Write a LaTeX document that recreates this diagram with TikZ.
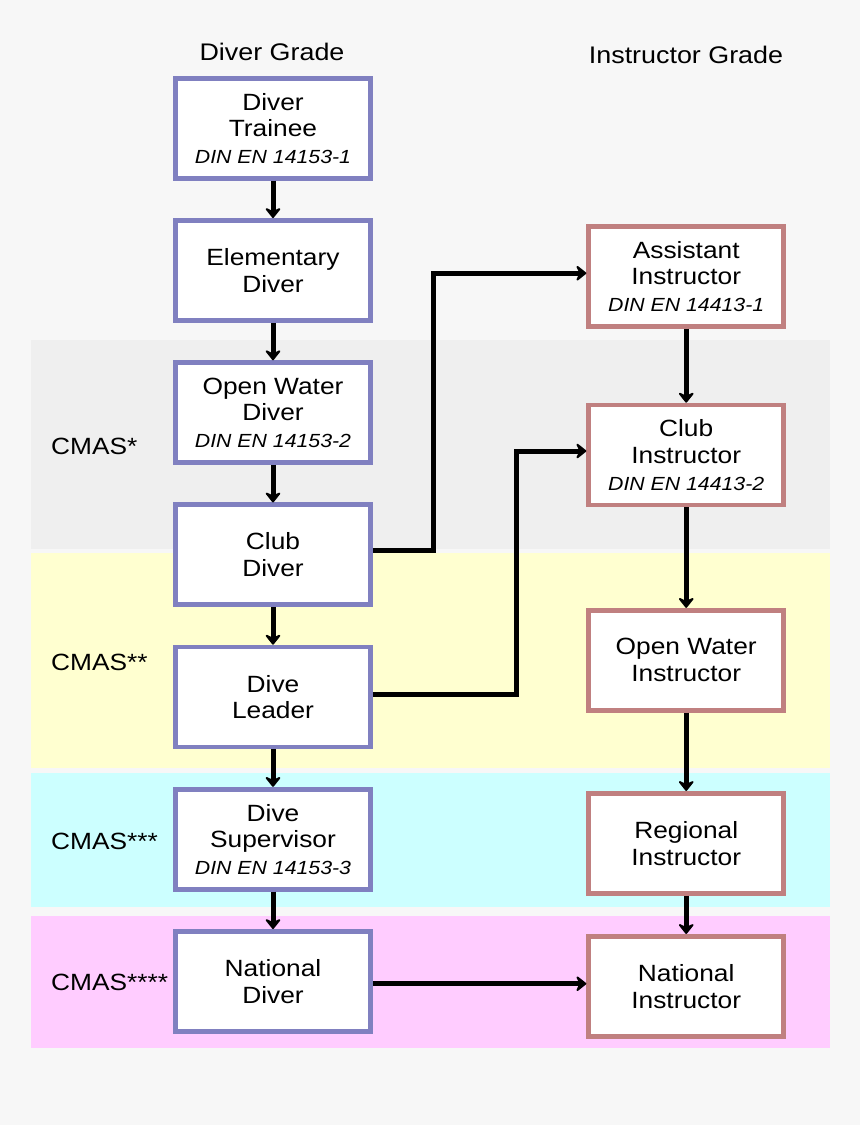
\documentclass[tikz,border=0pt]{standalone}
\usepackage{fontspec}
\setmainfont[FakeStretch=1.12]{Liberation Sans}
\usetikzlibrary{arrows.meta,calc}
\definecolor{bgc}{HTML}{F7F7F7}
\definecolor{grayband}{HTML}{EFEFEF}
\definecolor{yelband}{HTML}{FFFFD0}
\definecolor{cyaband}{HTML}{CCFFFF}
\definecolor{pinband}{HTML}{FFCCFF}
\definecolor{dcol}{HTML}{8080C0}
\definecolor{icol}{HTML}{C08080}
\tikzset{
  gbox/.style={fill=white, line width=4.7pt, minimum width=195pt, minimum height=100pt,
    inner sep=0pt, align=center, font=\fontsize{23.5}{26.6}\selectfont},
  dbox/.style={gbox, draw=dcol},
  ibox/.style={gbox, draw=icol},
  arr/.style={line width=5pt, -{Stealth[length=12pt,width=19pt,inset=4.5pt,round]}},
  conn/.style={arr, line join=miter},
  bandlabel/.style={anchor=base west, inner sep=0pt, font=\fontsize{23.5}{26}\selectfont},
  title/.style={anchor=base, inner sep=0pt, font=\fontsize{24}{28}\selectfont}
}
\newcommand{\dinline}[1]{{\fontsize{19}{26}\selectfont\itshape #1}}
\begin{document}
\begin{tikzpicture}[x=1pt,y=-1pt]
\useasboundingbox (0,0) rectangle (860,1125);
\fill[bgc] (0,0) rectangle (860,1125);
% bands
\fill[grayband] (31,340) rectangle (830,549);
\fill[yelband] (31,553.3) rectangle (830,768.3);
\fill[cyaband] (31,773.3) rectangle (830,906.7);
\fill[pinband] (31,915.7) rectangle (830,1048);
% band labels
\node[bandlabel] (l1) at (51,454.3) {CMAS*};
\node[bandlabel] (l2) at (51,670) {CMAS**};
\node[bandlabel] (l3) at (51,849) {CMAS***};
\node[bandlabel] (l4) at (51,990.7) {CMAS****};
% titles
\node[title] (t1) at (272,60) {Diver Grade};
\node[title] (t2) at (686,63) {Instructor Grade};
% diver boxes
\node[dbox] (dt) at (273,128.2) {Diver\\Trainee\\\dinline{DIN EN 14153-1}};
\node[dbox] (ed) at (273,270.4) {Elementary\\Diver};
\node[dbox] (owd) at (273,412.6) {Open Water\\Diver\\\dinline{DIN EN 14153-2}};
\node[dbox] (cd) at (273,554.8) {Club\\Diver};
\node[dbox] (dl) at (273,697) {Dive\\Leader};
\node[dbox] (ds) at (273,839.2) {Dive\\Supervisor\\\dinline{DIN EN 14153-3}};
\node[dbox] (nd) at (273,981.4) {National\\Diver};
% instructor boxes
\node[ibox] (ai) at (686.2,276.2) {Assistant\\Instructor\\\dinline{DIN EN 14413-1}};
\node[ibox] (ci) at (686.2,455) {Club\\Instructor\\\dinline{DIN EN 14413-2}};
\node[ibox] (owi) at (686.2,660.2) {Open Water\\Instructor};
\node[ibox] (ri) at (686.2,843.3) {Regional\\Instructor};
\node[ibox] (ni) at (686.2,986.3) {National\\Instructor};
% diver arrows
\draw[arr] (dt) -- (ed);
\draw[arr] (ed) -- (owd);
\draw[arr] (owd) -- (cd);
\draw[arr] (cd) -- (dl);
\draw[arr] (dl) -- (ds);
\draw[arr] (ds) -- (nd);
% instructor arrows
\draw[arr] (ai) -- (ci);
\draw[arr] (ci) -- (owi);
\draw[arr] (owi) -- (ri);
\draw[arr] (ri) -- (ni);
% cross connectors
\draw[conn] ([yshift=4.3pt]cd.east) -| ([xshift=-152.5pt,yshift=3pt]ai.west) -- ([yshift=3pt]ai.west);
\draw[conn] ([yshift=2.7pt]dl.east) -| ([xshift=-70pt,yshift=4pt]ci.west) -- ([yshift=4pt]ci.west);
\draw[conn] ([yshift=-2.3pt]nd.east) -- ([yshift=-2.3pt]nd.east -| ni.west);
\end{tikzpicture}
\end{document}
